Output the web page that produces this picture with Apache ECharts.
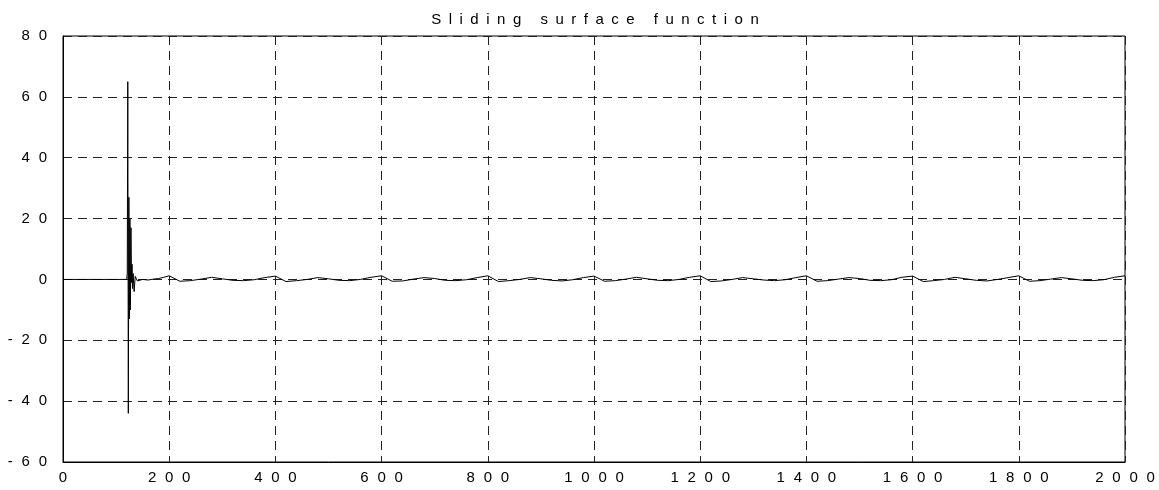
<!DOCTYPE html>
<html>
<head>
<meta charset="utf-8">
<script src="https://cdn.jsdelivr.net/npm/echarts@6/dist/echarts.min.js"></script>
<style>
  html, body { margin: 0; padding: 0; background: #fff; }
  #chart { width: 1159px; height: 490px; }
</style>
</head>
<body>
<div id="chart"></div>
<script>
var titleText = 'Sliding surface function'
var xTicks = [0, 200, 400, 600, 800, 1000, 1200, 1400, 1600, 1800, 2000]
var yTicks = [-60, -40, -20, 0, 20, 40, 60, 80]

// time steps
var tVals = [
  0, 60, 120, 121, 122, 123, 124, 125, 126, 127, 128, 129, 130, 131, 132, 134, 136, 140,
  150, 160, 170, 180, 190,
  200, 220, 240, 260, 280, 300, 320, 340, 360, 380,
  400, 420, 440, 460, 480, 500, 520, 540, 560, 580,
  600, 620, 640, 660, 680, 700, 720, 740, 760, 780,
  800, 820, 840, 860, 880, 900, 920, 940, 960, 980,
  1000, 1020, 1040, 1060, 1080, 1100, 1120, 1140, 1160, 1180,
  1200, 1220, 1240, 1260, 1280, 1300, 1320, 1340, 1360, 1380,
  1400, 1420, 1440, 1460, 1480, 1500, 1520, 1540, 1560, 1580,
  1600, 1620, 1640, 1660, 1680, 1700, 1720, 1740, 1760, 1780,
  1800, 1820, 1840, 1860, 1880, 1900, 1920, 1940, 1960, 1980,
  2000
]
// sliding surface value s(t)
var sVals = [
  0, 0, 0, 2, 65, -44, 27, -13, 20, -10, 17, -1, 5, -3, 2, -4, 1, -0.5,
  0, -0.2, 0.1, 0.3, 0.7,
  1.2, -0.6, -0.4, 0.1, 0.7, 0.2, -0.3, -0.4, -0.1, 0.6,
  1.1, -0.7, -0.4, 0.0, 0.6, 0.2, -0.3, -0.4, 0.0, 0.7,
  1.2, -0.6, -0.5, 0.1, 0.6, 0.3, -0.3, -0.4, -0.1, 0.6,
  1.2, -0.7, -0.4, 0.0, 0.6, 0.2, -0.3, -0.5, -0.1, 0.6,
  1.1, -0.6, -0.4, 0.1, 0.7, 0.2, -0.3, -0.4, 0.0, 0.7,
  1.2, -0.7, -0.5, 0.0, 0.6, 0.2, -0.2, -0.4, -0.1, 0.6,
  1.2, -0.6, -0.4, 0.1, 0.6, 0.3, -0.3, -0.4, -0.1, 0.7,
  1.1, -0.7, -0.4, 0.0, 0.7, 0.2, -0.3, -0.5, 0.0, 0.6,
  1.2, -0.6, -0.4, 0.1, 0.6, 0.2, -0.3, -0.4, -0.1, 0.7,
  1.2
]

function spaced(s) {
  return String(s).split('').join('\u2002\u200A')
}

var chartDom = document.getElementById('chart')
var myChart = echarts.init(chartDom)
var data = []
for (var i = 0; i < tVals.length; i++) {
  data.push([tVals[i], sVals[i]])
}

var option = {
  backgroundColor: '#fff',
  animation: false,
  title: {
    text: titleText.split('').join('\u2002'),
    left: 590,
    top: 7,
    textAlign: 'center',
    textStyle: {
      fontFamily: 'Liberation Sans',
      fontSize: 15,
      fontWeight: 'normal',
      color: '#000'
    }
  },
  grid: {
    left: 63,
    right: 34,
    top: 36,
    bottom: 28,
    show: true,
    borderColor: '#000',
    borderWidth: 1
  },
  xAxis: {
    type: 'value',
    min: xTicks[0],
    max: xTicks[xTicks.length - 1],
    interval: xTicks[1] - xTicks[0],
    axisLine: { show: true, onZero: false, lineStyle: { color: '#000', width: 1 } },
    axisTick: { show: false },
    axisLabel: {
      color: '#000',
      fontFamily: 'Liberation Sans',
      fontSize: 15,
      margin: 8,
      formatter: function (v) { return spaced(v) }
    },
    splitLine: {
      show: true,
      lineStyle: { color: '#222', type: [9, 6], width: 1 }
    }
  },
  yAxis: {
    type: 'value',
    min: yTicks[0],
    max: yTicks[yTicks.length - 1],
    interval: yTicks[1] - yTicks[0],
    axisLine: { show: true, onZero: false, lineStyle: { color: '#000', width: 1 } },
    axisTick: { show: false },
    axisLabel: {
      color: '#000',
      fontFamily: 'Liberation Sans',
      fontSize: 15,
      margin: 16,
      formatter: function (v) { return spaced(v) }
    },
    splitLine: {
      show: true,
      lineStyle: { color: '#222', type: [9, 6], width: 1 }
    }
  },
  series: [
    {
      type: 'line',
      data: data,
      showSymbol: false,
      lineStyle: { color: '#000', width: 1 }
    }
  ]
}

option && myChart.setOption(option)
</script>
</body>
</html>
